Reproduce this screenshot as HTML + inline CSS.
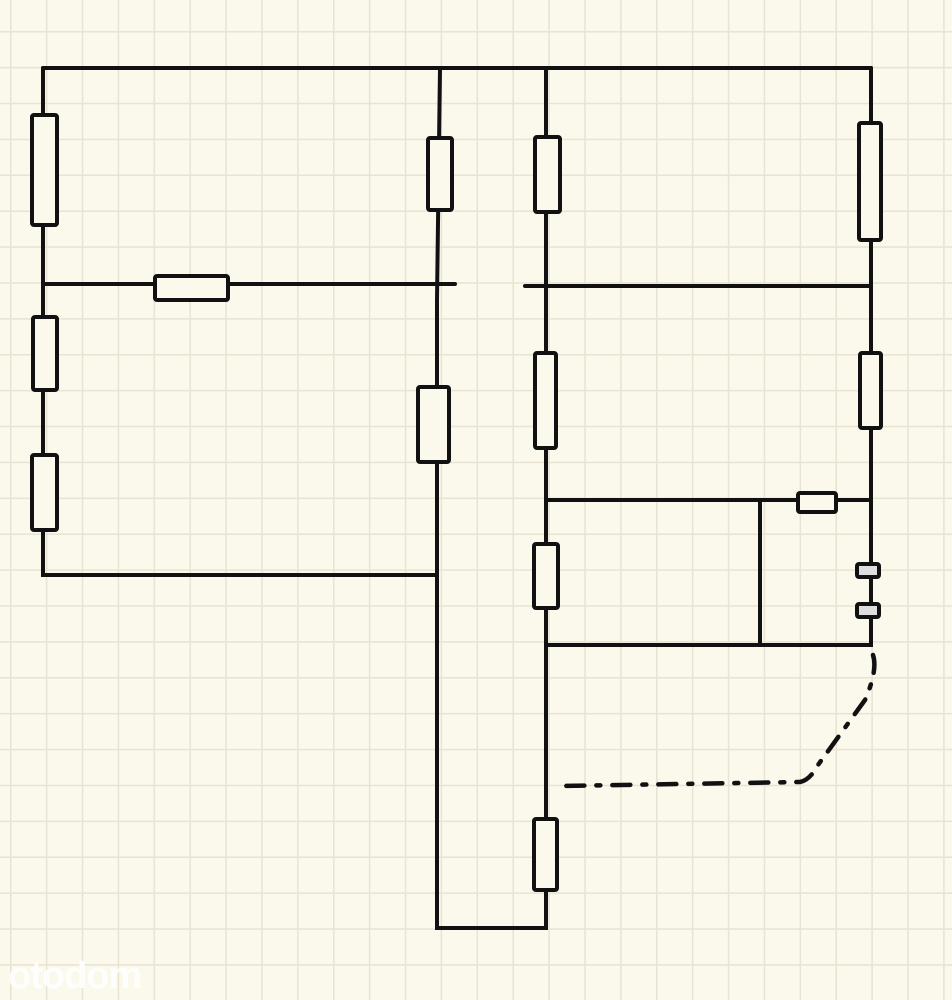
<!DOCTYPE html>
<html><head><meta charset="utf-8"><style>
html,body{margin:0;padding:0;width:952px;height:1000px;overflow:hidden;background:#fbf8ec}
.g{position:absolute;left:0;top:0;width:952px;height:1000px;
background-image:linear-gradient(to right,#e8e3d2 1.5px,transparent 1.5px),linear-gradient(to bottom,#e8e3d2 1.5px,transparent 1.5px);
background-size:35.9px 35.9px;background-position:10px 31px}
svg{position:absolute;left:0;top:0}
.wm{position:absolute;left:8px;top:955px;font:bold 38px "Liberation Sans",sans-serif;color:#fff;letter-spacing:-1px;opacity:.9}
</style></head><body>
<div class="g"></div>
<svg width="952" height="1000" viewBox="0 0 952 1000">
<g stroke="#111" stroke-width="4" fill="none" stroke-linecap="round">
<path d="M43 68H871"/>
<path d="M43 68V575H437"/>
<path d="M43 284H455"/>
<path d="M440 68L437 300V928H546V68"/>
<path d="M525 286H871"/>
<path d="M871 68V645H546"/>
<path d="M546 500H868"/>
<path d="M760 500V643"/>
</g>
<g stroke="#111" stroke-width="4" fill="#fbf8ec">
<rect x="32" y="115" width="25" height="110" rx="2"/>
<rect x="33" y="317" width="24" height="73" rx="2"/>
<rect x="32" y="455" width="25" height="75" rx="2"/>
<rect x="155" y="276" width="73" height="24" rx="2"/>
<rect x="428" y="138" width="24" height="72" rx="2"/>
<rect x="418" y="387" width="31" height="75" rx="2"/>
<rect x="535" y="137" width="25" height="75" rx="2"/>
<rect x="535" y="353" width="21" height="95" rx="2"/>
<rect x="534" y="544" width="24" height="64" rx="2"/>
<rect x="534" y="819" width="23" height="71" rx="2"/>
<rect x="859" y="123" width="22" height="117" rx="2"/>
<rect x="860" y="353" width="21" height="75" rx="2"/>
<rect x="798" y="493" width="38" height="19" rx="2"/>
<rect x="857" y="564" width="22" height="13" rx="2" fill="#ddd"/>
<rect x="857" y="604" width="22" height="13" rx="2" fill="#ddd"/>
</g>
<path d="M873 655Q878 670 865 700L818 765Q810 780 800 782L560 786" stroke="#111" stroke-width="4.5" fill="none" stroke-linecap="round" stroke-dasharray="18 12 4 12"/>
</svg>
<div class="wm">otodom</div>
</body></html>
